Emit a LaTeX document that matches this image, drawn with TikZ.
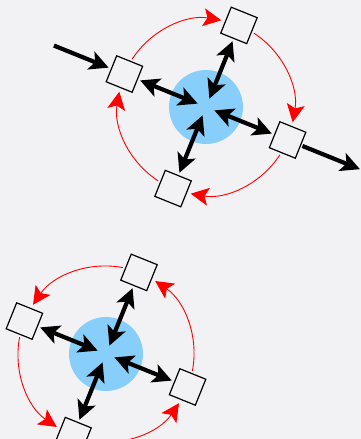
\documentclass[tikz,border=0pt]{standalone}
\usetikzlibrary{arrows.meta}
\definecolor{bg}{HTML}{F2F2F4}
\definecolor{hub}{HTML}{87CEFA}
\tikzset{
  box/.style={draw=black, fill=bg, line width=1.2pt, minimum size=28pt, inner sep=0pt, rotate=-22},
  hubnode/.style={circle, fill=hub, minimum size=74pt, inner sep=0pt},
  redtip/.tip={Stealth[length=18pt,width=18pt,inset=4pt]},
  blacktip/.tip={Stealth[length=19pt,width=19pt,inset=4.5pt]},
  flow/.style={red, line width=0.9pt, -redtip},
  link/.style={line width=4.2pt, blacktip-blacktip, shorten <=17pt, shorten >=9pt},
  io/.style={line width=4.2pt, -blacktip},
}
\begin{document}
\begin{tikzpicture}[x=1pt,y=-1pt]
\fill[bg] (0,0) rectangle (361,439);
\useasboundingbox (0,0) rectangle (361,439);
\clip (0,0) rectangle (361,439);

% ---------- top group ----------
\node[hubnode] (c1) at (206,107) {};
\foreach \s/\e [count=\i] in {-147/-80, -57/10, 33/100, 123/190} {
  \coordinate (p\i) at ([shift={(\s:88)}]c1);
  \draw[flow] (p\i) arc[start angle=\s, end angle=\e, radius=88];
}
\foreach \n/\a in {T/-68, R/22, B/112, L/202} {
  \path (c1) ++(\a:88) node[box] (a\n) {};
}
\foreach \n in {T, R, B, L} {
  \draw[link] (a\n.center) -- (c1.center);
}
\coordinate (inS) at ([shift={(202:164)}]c1);
\coordinate (outE) at ([shift={(22:166)}]c1);
\draw[io, shorten >=17pt] (inS) -- (aL.center);
\draw[io, shorten <=16pt] (aR.center) -- (outE);

% ---------- bottom group ----------
\node[hubnode] (c2) at (106,354) {};
\foreach \s/\e [count=\i] in {-79/-146, 191/124, 101/34, 11/-56} {
  \coordinate (q\i) at ([shift={(\s:88)}]c2);
  \draw[flow] (q\i) arc[start angle=\s, end angle=\e, radius=88];
}
\foreach \n/\a in {T/-68, R/22, B/112, L/202} {
  \path (c2) ++(\a:88) node[box] (b\n) {};
}
\foreach \n in {T, R, B, L} {
  \draw[link] (b\n.center) -- (c2.center);
}
\end{tikzpicture}
\end{document}
